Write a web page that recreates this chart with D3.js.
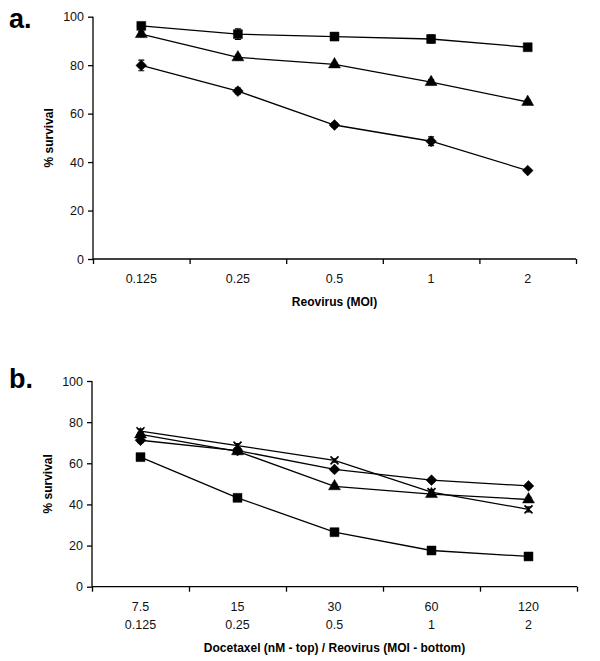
<!DOCTYPE html>
<html><head><meta charset="utf-8">
<script src="https://cdn.jsdelivr.net/npm/d3@7"></script>
<style>body{margin:0;background:#fff}svg{display:block}text{font-family:"Liberation Sans",Arial,sans-serif}</style>
</head><body>
<svg id="c" width="600" height="661"></svg>
<script>
// ---- data ----
const catsA = ["0.125","0.25","0.5","1","2"];
const aSquare   = [96.2, 92.8, 91.8, 90.8, 87.4];
const aSquareE  = [1.2, 2.2, 1.5, 1.6, 1.0];
const aTriangle = [92.8, 83.2, 80.3, 73.0, 64.8];
const aTriangleE= [1.0, 1.0, 0.8, 1.0, 0.8];
const aDiamond  = [79.9, 69.3, 55.3, 48.6, 36.5];
const aDiamondE = [2.2, 1.2, 1.0, 1.8, 0.6];

const catsBTop = ["7.5","15","30","60","120"];
const catsBBot = ["0.125","0.25","0.5","1","2"];
const bSquare   = [63.0, 43.2, 26.5, 17.6, 14.7];
const bSquareE  = [1.6, 0.8, 0.8, 0.8, 1.0];
const bDiamond  = [71.2, 66.2, 57.0, 51.8, 49.0];
const bDiamondE = [1.2, 0.8, 0.8, 0.8, 0.8];
const bTriangle = [74.0, 65.8, 48.8, 45.0, 42.4];
const bTriangleE= [1.0, 1.2, 1.0, 1.0, 1.0];
const bX        = [75.6, 68.6, 61.4, 46.0, 37.6];
const bXE       = [1.0, 1.0, 0.8, 1.2, 1.2];
const yTicks = [0,20,40,60,80,100];

const svg = d3.select("#c");

function panel(opt){
  const g = svg.append("g");
  const x = d3.scaleBand().domain(opt.cats).range([opt.left, opt.right]).padding(0);
  const y = d3.scaleLinear().domain([0,100]).range([opt.bottom, opt.top]);
  // y axis
  const ya = g.append("g").attr("transform",`translate(${opt.left},0)`)
    .call(d3.axisLeft(y).tickValues(yTicks).tickSize(5).tickPadding(4));
  ya.select(".domain").attr("d",`M0,${opt.top}V${opt.bottom}`).attr("stroke","#000").attr("stroke-width",1.3);
  ya.selectAll(".tick line").attr("stroke","#000").attr("stroke-width",1.3);
  ya.selectAll(".tick text").attr("font-size",12.5).attr("fill","#111")
    .attr("font-family","'Liberation Sans',Arial,sans-serif");
  // x axis boundary ticks
  const xb = d3.scaleLinear().domain([0,opt.cats.length]).range([opt.left,opt.right]);
  const xa = g.append("g").attr("transform",`translate(0,${opt.bottom})`)
    .call(d3.axisBottom(xb).tickValues(d3.range(opt.cats.length+1)).tickSize(5).tickFormat(""));
  xa.select(".domain").attr("d",`M${opt.left},0H${opt.right}`).attr("stroke","#000").attr("stroke-width",1.3);
  xa.selectAll(".tick line").attr("stroke","#000").attr("stroke-width",1.3);
  // category labels
  opt.labelRows.forEach((row,ri)=>{
    g.selectAll(null).data(row).enter().append("text")
      .attr("x",(d,i)=>x(opt.cats[i])+x.bandwidth()/2)
      .attr("y",opt.bottom+24+ri*18)
      .attr("text-anchor","middle").attr("font-size",12.5).attr("fill","#111").text(d=>d);
  });
  // titles
  g.append("text").attr("x",(opt.left+opt.right)/2).attr("y",opt.xTitleY)
    .attr("text-anchor","middle").attr("font-size",12).attr("font-weight","bold").text(opt.xTitle);
  g.append("text").attr("transform",`translate(${opt.left-40},${(opt.top+opt.bottom)/2}) rotate(-90)`)
    .attr("text-anchor","middle").attr("font-size",12).attr("font-weight","bold").text("% survival");
  g.append("text").attr("x",9).attr("y",opt.letterY).attr("font-size",27).attr("font-weight","bold").text(opt.letter);

  const cx = i => x(opt.cats[i]) + x.bandwidth()/2;
  const line = d3.line().x((d,i)=>cx(i)).y(d=>y(d));
  opt.series.forEach(s=>{
    const sg = g.append("g");
    sg.append("path").attr("d",line(s.v)).attr("fill","none").attr("stroke","#000").attr("stroke-width",1.3);
    s.v.forEach((v,i)=>{
      const e = s.e[i];
      sg.append("path").attr("d",`M${cx(i)},${y(v+e)}V${y(v-e)}M${cx(i)-3},${y(v+e)}h6M${cx(i)-3},${y(v-e)}h6`)
        .attr("stroke","#000").attr("stroke-width",1.2).attr("fill","none");
    });
    sg.selectAll(null).data(s.v).enter().append("path")
      .attr("transform",(d,i)=>`translate(${cx(i)},${y(d)})${s.rot?" rotate(45)":""}`)
      .attr("d",s.shape)
      .attr("fill",s.stroke?"none":"#000").attr("stroke","#000").attr("stroke-width",s.stroke?1.6:0.5);
  });
}

const sq = d3.symbol().type(d3.symbolSquare).size(80)();
const tri = d3.symbol().type(d3.symbolTriangle).size(62)();
const dia = d3.symbol().type(d3.symbolSquare).size(58)();
const xs = "M-4,-4L4,4M-4,4L4,-4";

panel({cats:catsA, left:93, right:576, top:16.7, bottom:259,
  labelRows:[catsA], xTitle:"Reovirus (MOI)", xTitleY:306, letter:"a.", letterY:28,
  series:[
    {v:aSquare,e:aSquareE,shape:sq},
    {v:aTriangle,e:aTriangleE,shape:tri},
    {v:aDiamond,e:aDiamondE,shape:dia,rot:true}
  ]});

panel({cats:catsBTop, left:92, right:577, top:381, bottom:586.7,
  labelRows:[catsBTop,catsBBot], xTitle:"Docetaxel (nM - top) / Reovirus (MOI - bottom)", xTitleY:652, letter:"b.", letterY:388,
  series:[
    {v:bSquare,e:bSquareE,shape:sq},
    {v:bDiamond,e:bDiamondE,shape:dia,rot:true},
    {v:bTriangle,e:bTriangleE,shape:tri},
    {v:bX,e:bXE,shape:xs,stroke:true}
  ]});
</script>
</body></html>
